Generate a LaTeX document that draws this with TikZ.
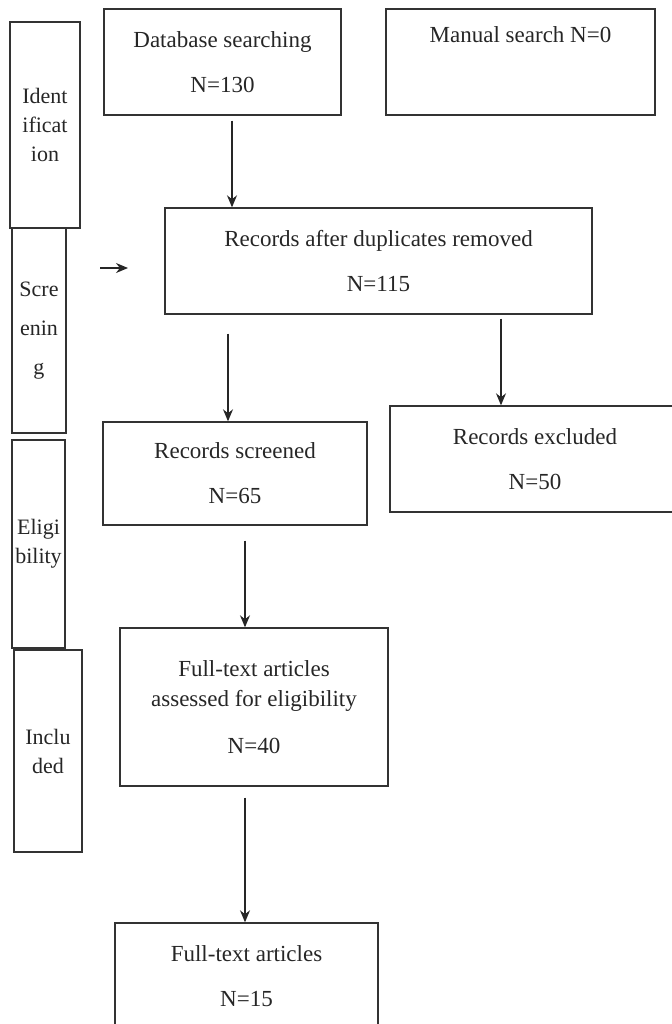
\documentclass[tikz,border=0pt]{standalone}
\usepackage{fontspec}
\setmainfont{Liberation Serif}
\usetikzlibrary{arrows.meta}
\tikzset{
    flow-box/.style = {draw=black!80, line width=0.7pt, rectangle, align=center, inner sep=0pt, text=black!85, font=\fontsize{11.5}{15}\selectfont},
    side-box/.style = {flow-box, line width=0.8pt, font=\fontsize{11}{14.5}\selectfont},
    flow-arrow/.style = {draw=black!85, line width=0.6pt, -{Stealth[length=6pt,width=5pt]}},
}

\begin{document}
\begin{tikzpicture}[x=0.5pt,y=-0.5pt]
\useasboundingbox (0,0) rectangle (671,1024);

% stage labels on the left
\node[side-box, minimum width=35pt, minimum height=103pt] (ident) at (45,125) {Ident\\ificat\\ion};
\node[side-box, minimum width=27pt, minimum height=102.5pt] (screen) at (39,330.5) {Scre\\[5pt]enin\\[5pt]g};
\node[side-box, minimum width=26.5pt, minimum height=104pt] (elig) at (38.5,544) {Eligi\\bility};
\node[side-box, minimum width=34pt, minimum height=101pt] (incl) at (48,751) {Inclu\\ded};

% flow boxes
\node[flow-box, minimum width=118.5pt, minimum height=53pt] (db) at (222.5,62) {Database searching\\[7.5pt]N=130};
\node[flow-box, minimum width=134.5pt, minimum height=53pt] (manual) at (520.5,62) {Manual search N=0\\[7.5pt]\strut};
\node[flow-box, minimum width=213.5pt, minimum height=53pt] (dedup) at (378.5,261) {Records after duplicates removed\\[7.5pt]N=115};
\node[flow-box, minimum width=132pt, minimum height=51.5pt] (screened) at (235,473.5) {Records screened\\[7.5pt]N=65};
\node[flow-box, minimum width=145pt, minimum height=53pt] (excluded) at (535,459) {Records excluded\\[7.5pt]N=50};
\node[flow-box, minimum width=134pt, minimum height=79pt] (fulltext) at (254,707) {Full-text articles\\assessed for eligibility\\[8.5pt]N=40};
\node[flow-box, minimum width=131.5pt, minimum height=53pt] (final) at (246.5,976) {Full-text articles\\[7.5pt]N=15};

% arrows
\coordinate (stub-a) at (100,268);
\coordinate (stub-b) at (128,268);
\draw[flow-arrow] (stub-a) -- (stub-b);
\draw[flow-arrow, shorten <=2.5pt] ([xshift=4.75pt]db.south) -- ([xshift=4.75pt]db.south |- dedup.north);
\draw[flow-arrow, shorten <=9.5pt] ([xshift=-3.5pt]screened.north |- dedup.south) -- ([xshift=-3.5pt]screened.north);
\draw[flow-arrow, shorten <=2pt] ([xshift=-17pt]excluded.north |- dedup.south) -- ([xshift=-17pt]excluded.north);
\draw[flow-arrow, shorten <=7.5pt] ([xshift=-4.5pt]fulltext.north |- screened.south) -- ([xshift=-4.5pt]fulltext.north);
\draw[flow-arrow, shorten <=5.5pt] ([xshift=-0.75pt]final.north |- fulltext.south) -- ([xshift=-0.75pt]final.north);
\end{tikzpicture}
\end{document}
